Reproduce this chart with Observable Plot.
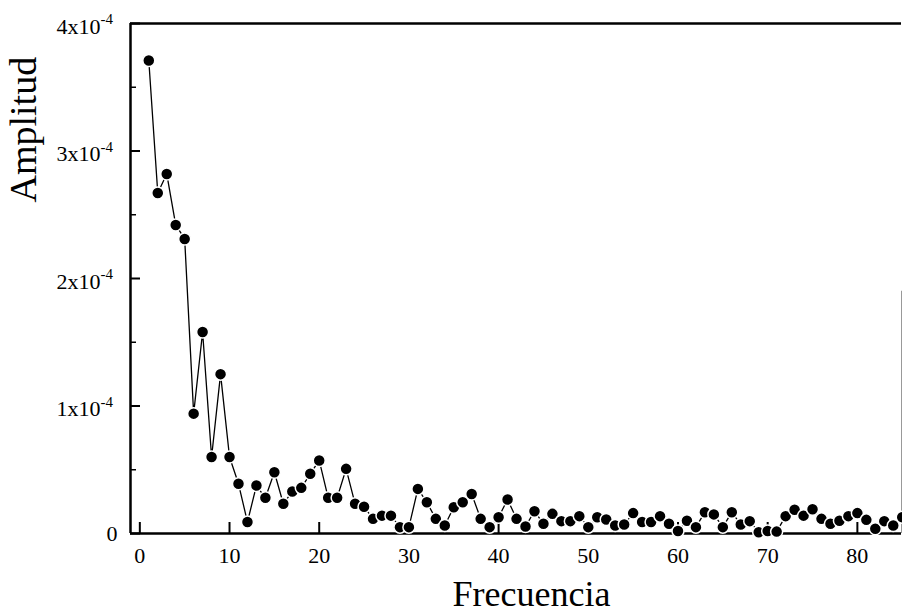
<!DOCTYPE html>
<html>
<head>
<meta charset="utf-8">
<script src="https://cdn.jsdelivr.net/npm/d3@7"></script>
<script src="https://cdn.jsdelivr.net/npm/@observablehq/plot@0.6"></script>
<style>
  html, body { margin: 0; padding: 0; background: #fff; }
  #chart svg { display: block; }
</style>
</head>
<body>
<div id="chart"></div>
<script>
// Frequencies (x) and amplitudes (in units of 1e-4)
const freq = [1,2,3,4,5,6,7,8,9,10,11,12,13,14,15,16,17,18,19,20,
  21,22,23,24,25,26,27,28,29,30,31,32,33,34,35,36,37,38,39,40,
  41,42,43,44,45,46,47,48,49,50,51,52,53,54,55,56,57,58,59,60,
  61,62,63,64,65,66,67,68,69,70,71,72,73,74,75,76,77,78,79,80,
  81,82,83,84,85];
const ampE4 = [3.71,2.67,2.82,2.42,2.31,0.94,1.58,0.60,1.25,0.60,
  0.39,0.09,0.376,0.28,0.48,0.233,0.33,0.358,0.468,0.573,
  0.28,0.28,0.507,0.233,0.21,0.115,0.14,0.14,0.05,0.05,
  0.35,0.245,0.115,0.063,0.206,0.245,0.31,0.115,0.05,0.128,
  0.267,0.115,0.055,0.175,0.076,0.154,0.097,0.097,0.136,0.05,
  0.128,0.11,0.063,0.07,0.16,0.09,0.09,0.136,0.076,0.02,
  0.10,0.05,0.167,0.15,0.05,0.167,0.07,0.097,0.01,0.02,
  0.015,0.136,0.186,0.14,0.19,0.115,0.076,0.10,0.136,0.16,
  0.107,0.037,0.097,0.063,0.128];

const xTicks = [0,10,20,30,40,50,60,70,80];
const xTickLabels = ["0","10","20","30","40","50","60","70","80"];
const yTicks = [0,1,2,3,4];
const yTickLabels = ["0","1x10","2x10","3x10","4x10"];
const yTickExp = "-4";
const yMinor = [0.5,1.5,2.5,3.5];
const xTitle = "Frecuencia";
const yTitle = "Amplitud";

const data = freq.map((f, i) => ({f, a: ampE4[i]}));
const xDomain = [-1.04, 84.92];
const yDomain = [0, 4];
const xPerPx = (xDomain[1] - xDomain[0]) / 771;
const yPerPx = (yDomain[1] - yDomain[0]) / 510;

const font = "Liberation Serif, Times New Roman, serif";
const yLab = yTicks.map((v, i) => ({v, t: yTickLabels[i]}));
const xLab = xTicks.map((v, i) => ({v, t: xTickLabels[i]}));

const chart = Plot.plot({
  width: 902,
  height: 613,
  marginLeft: 130,
  marginRight: 1,
  marginTop: 23,
  marginBottom: 80,
  style: {fontFamily: font, background: "#fff", color: "#000"},
  x: {domain: xDomain, axis: null},
  y: {domain: yDomain, axis: null},
  marks: [
    // frame pieces
    Plot.ruleY([yDomain[1]], {stroke: "#000", strokeWidth: 2.5}),
    Plot.ruleY([0], {stroke: "#000", strokeWidth: 2.5}),
    Plot.ruleX([xDomain[0]], {stroke: "#000", strokeWidth: 2.5}),
    Plot.ruleX([xDomain[1]], {y1: 0, y2: 1.9, stroke: "#999", strokeWidth: 1}),
    // inward ticks
    Plot.ruleX(xTicks, {x: d => d, y1: 0, y2: 11 * yPerPx, stroke: "#000", strokeWidth: 2}),
    Plot.ruleY(yTicks, {y: d => d, x1: xDomain[0], x2: xDomain[0] + 10 * xPerPx, stroke: "#000", strokeWidth: 2}),
    Plot.ruleY(yMinor, {y: d => d, x1: xDomain[0], x2: xDomain[0] + 6 * xPerPx, stroke: "#000", strokeWidth: 1.5}),
    // tick labels
    Plot.text(xLab, {x: "v", text: "t", frameAnchor: "bottom", dy: 29, fontSize: 22, fill: "#000"}),
    Plot.text(yLab.filter(d => d.v !== 0), {y: "v", text: "t", frameAnchor: "left", dx: -30, dy: 3, textAnchor: "end", fontSize: 22, fill: "#000"}),
    Plot.text(yLab.filter(d => d.v !== 0), {y: "v", text: () => yTickExp, frameAnchor: "left", dx: -30, dy: -4, textAnchor: "start", fontSize: 15, fill: "#000"}),
    Plot.text(yLab.filter(d => d.v === 0), {y: "v", text: "t", frameAnchor: "left", dx: -13, dy: 0, textAnchor: "end", fontSize: 22, fill: "#000"}),
    // axis titles
    Plot.text([xTitle], {text: d => d, frameAnchor: "bottom", dx: 15.5, dy: 72, fontSize: 36, fill: "#000"}),
    Plot.text([yTitle], {text: d => d, frameAnchor: "left", rotate: -90, dx: -107, dy: -76, fontSize: 38, fill: "#000"}),
    // data
    Plot.line(data, {x: "f", y: "a", stroke: "#000", strokeWidth: 1.3}),
    Plot.dot(data, {x: "f", y: "a", r: 6, fill: "#000", stroke: "#fff", strokeWidth: 1.5})
  ]
});
document.getElementById("chart").appendChild(chart);
</script>
</body>
</html>
